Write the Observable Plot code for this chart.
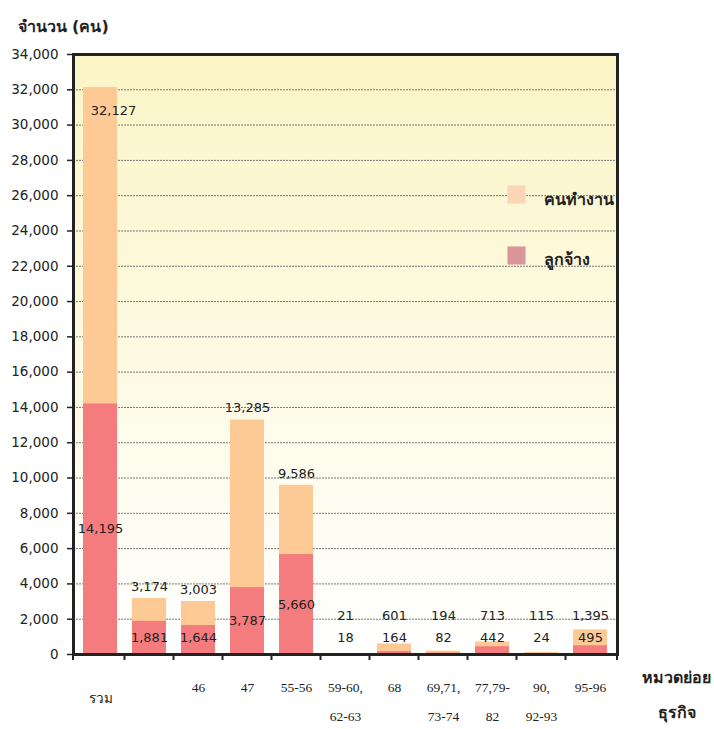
<!DOCTYPE html>
<html><head><meta charset="utf-8">
<script src="https://cdn.jsdelivr.net/npm/d3@7"></script>
<script src="https://cdn.jsdelivr.net/npm/@observablehq/plot@0.6"></script>
<style>body{margin:0;background:#fff} svg{display:block}</style>
</head><body><div id="chart"></div>
<script>
const categories = ["รวม", " ", "46", "47", "55-56", "59-60,\n62-63", "68", "69,71,\n73-74", "77,79-\n82", "90,\n92-93", "95-96"];
const workers   = [32127, 3174, 3003, 13285, 9586, 21, 601, 194, 713, 115, 1395];
const employees = [14195, 1881, 1644, 3787, 5660, 18, 164, 82, 442, 24, 495];
const yTicks = d3.range(0, 34001, 2000);
const seriesNames = ["คนทำงาน", "ลูกจ้าง"];
const yTitle = "จำนวน (คน)";
const xTitle = ["หมวดย่อย", "ธุรกิจ"];

const data = categories.map((c, i) => ({cat: c, workers: workers[i], employees: employees[i], i}));
const colWorkers = "#fdca96", colEmp = "#f47c7e";
const legWorkers = "#fcd5b5", legEmp = "#d9969a";
const numFont = "Tahoma, 'DejaVu Sans', Verdana, sans-serif";
const serif = "'Liberation Serif', 'Times New Roman', serif";
const fmt = d3.format(",");

function gradientDefs() {
  const defs = d3.create("svg:defs");
  const g = defs.append("linearGradient").attr("id", "bgGrad")
    .attr("x1", 0).attr("y1", 0).attr("x2", 0).attr("y2", 1);
  g.append("stop").attr("offset", "0%").attr("stop-color", "#fbf5c6");
  g.append("stop").attr("offset", "100%").attr("stop-color", "#ffffff");
  return defs.node();
}

function categoryTicks(index, scales, values, dims) {
  const x = scales.x;
  const dom = x.domain(), bw = x.bandwidth(), [r0, r1] = x.range();
  const pos = [r0];
  for (let k = 0; k < dom.length - 1; k++) pos.push((x(dom[k]) + bw + x(dom[k + 1])) / 2);
  pos.push(r1);
  const yb = dims.height - dims.marginBottom;
  const g = d3.create("svg:g").attr("stroke", "#222").attr("stroke-width", 2);
  g.selectAll("line").data(pos).join("line")
    .attr("x1", d => d).attr("x2", d => d).attr("y1", yb).attr("y2", yb + 6);
  return g.node();
}

const chart = Plot.plot({
  width: 714,
  height: 729,
  marginLeft: 73,
  marginRight: 97,
  marginTop: 54,
  marginBottom: 75,
  style: {fontFamily: numFont, background: "#fff", color: "#222"},
  x: {domain: categories, paddingInner: 0.31, paddingOuter: 0.155, axis: null},
  y: {domain: [0, 34000], axis: null},
  marks: [
    gradientDefs,
    Plot.frame({fill: "url(#bgGrad)"}),
    Plot.gridY(yTicks.filter(t => t > 0 && t < 34000), {stroke: "#777", strokeOpacity: 1, strokeDasharray: "2,1"}),
    Plot.axisY(yTicks, {tickFormat: fmt, tickSize: 6, tickPadding: 9, fontSize: 13.5, stroke: "#222", strokeWidth: 1.5, label: null, fill: "#222"}),
    Plot.barY(data, {x: "cat", y: "workers", fill: colWorkers}),
    Plot.barY(data, {x: "cat", y: "employees", fill: colEmp}),
    // total labels
    Plot.text(data.filter(d => d.i === 0), {x: "cat", y: "workers", text: d => fmt(d.workers), dx: 13, dy: 23, fontSize: 13, fill: "#222"}),
    Plot.text(data.filter(d => d.i > 0), {x: "cat", y: d => Math.max(d.workers, 1500), text: d => fmt(d.workers), dy: -12, fontSize: 13, fill: "#222"}),
    // employee labels
    Plot.text(data, {x: "cat", y: d => Math.max(d.employees / 2, 950), text: d => fmt(d.employees), fontSize: 13, fill: "#222"}),
    Plot.frame({stroke: "#222", strokeWidth: 3}),
    categoryTicks,
    // category labels
    Plot.text(data.filter(d => d.i === 0), {x: "cat", text: "cat", frameAnchor: "bottom", dy: 48, fontSize: 13.5, fontFamily: serif, fill: "#222"}),
    Plot.text(data.filter(d => d.i > 0), {x: "cat", text: "cat", frameAnchor: "bottom", lineAnchor: "top", dy: 17, lineHeight: 2.15, fontSize: 13.5, fontFamily: serif, fill: "#222"}),
    // axis titles
    Plot.text([yTitle], {frameAnchor: "top-left", dx: -56, dy: -34, textAnchor: "start", fontSize: 16, fontWeight: "bold", fill: "#222"}),
    Plot.text([xTitle[0]], {frameAnchor: "bottom-right", dx: 59, dy: 28, textAnchor: "middle", fontSize: 16, fontWeight: "bold", fill: "#222"}),
    Plot.text([xTitle[1]], {frameAnchor: "bottom-right", dx: 59, dy: 63, textAnchor: "middle", fontSize: 16, fontWeight: "bold", fill: "#222"}),
    // legend
    Plot.dot([seriesNames[0]], {frameAnchor: "top-right", dx: -101, dy: 140, symbol: "square", r: 10.2, fill: legWorkers, stroke: null}),
    Plot.dot([seriesNames[1]], {frameAnchor: "top-right", dx: -101, dy: 201, symbol: "square", r: 10.2, fill: legEmp, stroke: null}),
    Plot.text([seriesNames[0]], {frameAnchor: "top-right", dx: -74, dy: 139, textAnchor: "start", fontSize: 16, fontWeight: "bold", fill: "#222"}),
    Plot.text([seriesNames[1]], {frameAnchor: "top-right", dx: -74, dy: 199, textAnchor: "start", fontSize: 16, fontWeight: "bold", fill: "#222"})
  ]
});
document.getElementById("chart").appendChild(chart);
</script>
</body></html>
